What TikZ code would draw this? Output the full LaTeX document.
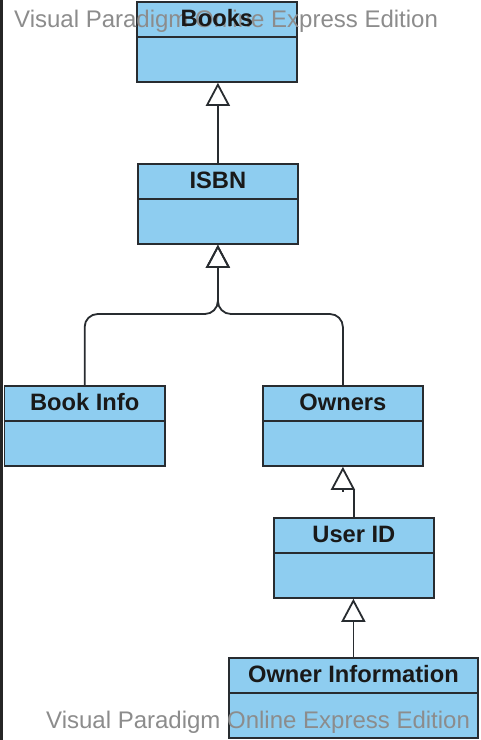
\documentclass[tikz,border=0pt]{standalone}
\usepackage{fontspec}
\setmainfont{Liberation Sans}
\usetikzlibrary{arrows.meta,calc}
\definecolor{boxfill}{RGB}{142,205,240}
\definecolor{boxline}{RGB}{40,44,48}
\definecolor{wmgray}{RGB}{140,140,140}
\tikzset{
  classbox/.style={draw=boxline, fill=boxfill, line width=1.8pt, minimum height=80pt, inner sep=0pt, anchor=north west},
  divline/.style={draw=boxline, line width=1.8pt},
  lbl/.style={font=\fontsize{23.7}{28}\selectfont\bfseries, text=black!90, inner sep=0pt},
  wmtext/.style={font=\fontsize{24}{28}\selectfont, text=wmgray, inner sep=0pt, anchor=base west},
  conn/.style={draw=boxline, line width=1.8pt},
  gen/.style={conn, -{Triangle[open,length=23pt,width=24pt,line width=1.8pt]}},
}
\newcommand\umlclassbox[4]{%
  \node[classbox, minimum width=#4] (#1) at (#2,#3) {};
  \draw[divline] ($(#1.north west)+(0,36)$) -- ($(#1.north east)+(0,36)$);
}
\newcommand\umlclasslabel[2]{%
  \node[lbl] (#1-t) at ($(#1.north)+(0,17.5)$) {#2};
}
\begin{document}
\begin{tikzpicture}[x=1pt,y=-1pt]
\useasboundingbox (0,0) rectangle (480,740);
\fill[white] (0,0) rectangle (480,740);
\fill[black!85] (0,0) rectangle (2.5,740);

\umlclassbox{books}{136}{1}{160}
\umlclassbox{isbn}{137}{163}{160}
\umlclassbox{bookinfo}{3.5}{385}{160.5}
\umlclassbox{owners}{262}{385}{160}
\umlclassbox{userid}{273}{517}{160}
\umlclassbox{ownerinfo}{228}{657}{249}

% generalizations
\draw[gen] (isbn.north) -- (isbn.north |- books.south);
\coordinate (jy) at (0,314);
\coordinate (j) at (isbn.south |- jy);
\draw[gen, rounded corners=13pt] (bookinfo.north) |- (j) -- (isbn.south);
\draw[gen, rounded corners=13pt] (owners.north) |- (j) -- (isbn.south);
\coordinate (ub) at ($(userid.north)+(0,-27)$);
\draw[conn] (userid.north) -- (ub);
\coordinate (ot) at ($(owners.south)+(0,25)$);
\draw[gen] (ot) -- (owners.south);
\draw[gen] (ownerinfo.north) -- (ownerinfo.north |- userid.south);

% watermark
\node[wmtext] (wm1) at (14,27) {Visual Paradigm Online Express Edition};
\node[wmtext] (wm2) at (46,728) {Visual Paradigm Online Express Edition};

\umlclasslabel{books}{Books}
\umlclasslabel{isbn}{ISBN}
\umlclasslabel{bookinfo}{Book Info}
\umlclasslabel{owners}{Owners}
\umlclasslabel{userid}{User ID}
\umlclasslabel{ownerinfo}{Owner Information}
\end{tikzpicture}
\end{document}
